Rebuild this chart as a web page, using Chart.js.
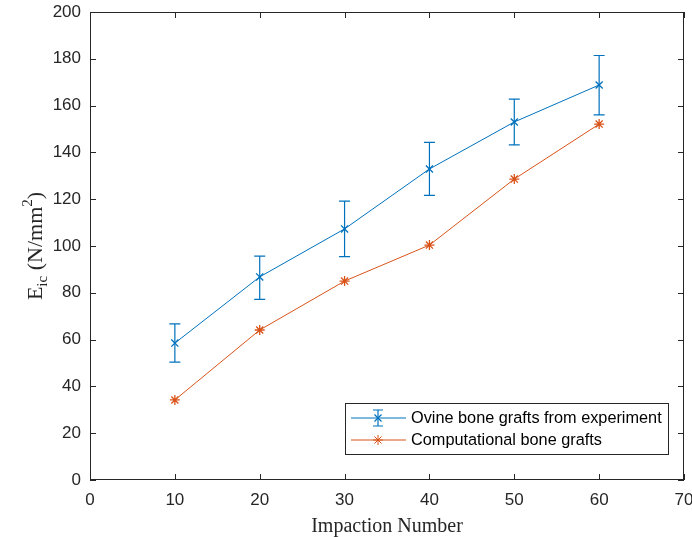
<!DOCTYPE html>
<html lang="en">
<head>
<meta charset="UTF-8">
<title>Impaction Number vs Eic</title>
<script src="https://cdn.jsdelivr.net/npm/chart.js"></script>
<style>
    html, body { margin: 0; padding: 0; background: #fff; }
    #wrap { width: 692px; height: 537px; position: relative; }
</style>
</head>
<body>
<div id="wrap"><canvas id="chart" width="692" height="537"></canvas></div>
<script>
// impaction numbers
const impactions = [10, 20, 30, 40, 50, 60];
// ovine bone grafts (experiment): mean and error bar ends
const ovineMean = [58.5, 86.8, 107.3, 132.9, 153.0, 168.8];
const ovineUpper = [66.7, 95.7, 119.2, 144.3, 162.8, 181.4];
const ovineLower = [50.4, 77.2, 95.5, 121.6, 143.2, 156.0];
// computational bone grafts
const computational = [34.2, 64.1, 85.0, 100.4, 128.6, 152.1];

const xTicks = [0, 10, 20, 30, 40, 50, 60, 70];
const yTicks = [0, 20, 40, 60, 80, 100, 120, 140, 160, 180, 200];

const BLUE = '#0072BD';
const ORANGE = '#D95319';
const AXIS = '#262626';
const SERIF = '"Liberation Serif", "Times New Roman", serif';
const SANS = '"Liberation Sans", Arial, sans-serif';

// error bars for the experiment series
const errorBars = {
    id: 'errorBars',
    afterDatasetsDraw(chart) {
        const ctx = chart.ctx;
        const xs = chart.scales.x, ys = chart.scales.y;
        ctx.save();
        ctx.strokeStyle = BLUE;
        ctx.lineWidth = 1.2;
        impactions.forEach((v, i) => {
            const px = xs.getPixelForValue(v);
            const top = ys.getPixelForValue(ovineUpper[i]);
            const bot = ys.getPixelForValue(ovineLower[i]);
            ctx.beginPath();
            ctx.moveTo(px, top); ctx.lineTo(px, bot);
            ctx.moveTo(px - 5.5, top); ctx.lineTo(px + 5.5, top);
            ctx.moveTo(px - 5.5, bot); ctx.lineTo(px + 5.5, bot);
            ctx.stroke();
        });
        ctx.restore();
    }
};

// MATLAB style box, inward ticks, y title with sub/superscript, legend
const matlabFrame = {
    id: 'matlabFrame',
    afterDraw(chart) {
        const ctx = chart.ctx;
        const a = chart.chartArea;
        const xs = chart.scales.x, ys = chart.scales.y;
        ctx.save();
        ctx.strokeStyle = AXIS;
        ctx.lineWidth = 1;
        ctx.strokeRect(a.left + 0.5, a.top + 0.5, a.right - a.left - 1, a.bottom - a.top - 1);
        ctx.beginPath();
        xTicks.forEach(v => {
            const px = Math.round(xs.getPixelForValue(v)) + 0.5;
            ctx.moveTo(px, a.bottom); ctx.lineTo(px, a.bottom - 6);
            ctx.moveTo(px, a.top); ctx.lineTo(px, a.top + 6);
        });
        yTicks.forEach(v => {
            const py = Math.round(ys.getPixelForValue(v)) + 0.5;
            ctx.moveTo(a.left, py); ctx.lineTo(a.left + 6, py);
            ctx.moveTo(a.right, py); ctx.lineTo(a.right - 6, py);
        });
        ctx.stroke();

        // y axis title: E_ic (N/mm^2)
        const cy = (a.top + a.bottom) / 2;
        ctx.translate(42, cy);
        ctx.rotate(-Math.PI / 2);
        ctx.fillStyle = AXIS;
        ctx.textBaseline = 'alphabetic';
        ctx.textAlign = 'left';
        const big = '22px ' + SERIF;
        const small = '15px ' + SERIF;
        const parts = [
            ['E', big, 0], ['ic', small, 5], [' (N/mm', big, 0], ['2', small, -10], [')', big, 0]
        ];
        let w = 0;
        parts.forEach(p => { ctx.font = p[1]; w += ctx.measureText(p[0]).width; });
        let x = -w / 2;
        parts.forEach(p => {
            ctx.font = p[1];
            ctx.fillText(p[0], x, p[2]);
            x += ctx.measureText(p[0]).width;
        });
        ctx.setTransform(1, 0, 0, 1, 0, 0);

        // legend box
        const lx = 345, ly = 403, lw = 323, lh = 51;
        ctx.fillStyle = '#fff';
        ctx.fillRect(lx, ly, lw, lh);
        ctx.strokeStyle = AXIS;
        ctx.lineWidth = 1;
        ctx.strokeRect(lx + 0.5, ly + 0.5, lw, lh);
        const rows = [
            { label: 'Ovine bone grafts from experiment', color: BLUE, style: 'crossRot', err: true, y: 418 },
            { label: 'Computational bone grafts', color: ORANGE, style: 'star', err: false, y: 440 }
        ];
        rows.forEach(r => {
            ctx.strokeStyle = r.color;
            ctx.lineWidth = 1;
            ctx.beginPath();
            ctx.moveTo(351, r.y); ctx.lineTo(406, r.y);
            ctx.stroke();
            const mx = 378;
            if (r.err) {
                ctx.lineWidth = 1.2;
                ctx.beginPath();
                ctx.moveTo(mx, r.y - 8); ctx.lineTo(mx, r.y + 8);
                ctx.moveTo(mx - 5, r.y - 8); ctx.lineTo(mx + 5, r.y - 8);
                ctx.moveTo(mx - 5, r.y + 8); ctx.lineTo(mx + 5, r.y + 8);
                ctx.stroke();
            }
            Chart.helpers.drawPoint(ctx, { pointStyle: r.style, radius: 5, borderWidth: 1.3, rotation: 0 }, mx, r.y);
            ctx.fillStyle = '#000';
            ctx.font = '16.3px ' + SANS;
            ctx.textBaseline = 'middle';
            ctx.textAlign = 'left';
            ctx.fillText(r.label, 411, r.y + 1);
        });
        ctx.restore();
    }
};

const tickFont = { family: SANS, size: 17 };

new Chart(document.getElementById('chart'), {
    type: 'line',
    data: {
        labels: impactions,
        datasets: [
            {
                label: 'Ovine bone grafts from experiment',
                data: impactions.map((x, i) => ({ x: x, y: ovineMean[i] })),
                borderColor: BLUE,
                backgroundColor: BLUE,
                borderWidth: 1,
                pointStyle: 'crossRot',
                pointRadius: 5,
                pointBorderWidth: 1.3,
                tension: 0
            },
            {
                label: 'Computational bone grafts',
                data: impactions.map((x, i) => ({ x: x, y: computational[i] })),
                borderColor: ORANGE,
                backgroundColor: ORANGE,
                borderWidth: 1,
                pointStyle: 'star',
                pointRadius: 5,
                pointBorderWidth: 1.3,
                tension: 0
            }
        ]
    },
    options: {
        responsive: false,
        animation: false,
        layout: { padding: { top: 12, right: 8, left: 0, bottom: 0 } },
        plugins: {
            legend: { display: false },
            tooltip: { enabled: false }
        },
        scales: {
            x: {
                type: 'linear',
                min: 0, max: 70,
                afterBuildTicks: s => { s.ticks = xTicks.map(v => ({ value: v })); },
                afterFit: s => { s.height = 57; s.paddingLeft = 0; s.paddingRight = 0; },
                grid: { display: false, drawTicks: false },
                border: { display: false },
                ticks: { font: tickFont, color: AXIS, padding: 10, maxRotation: 0 },
                title: {
                    display: true,
                    text: 'Impaction Number',
                    font: { family: SERIF, size: 20, lineHeight: 1.0 },
                    color: AXIS,
                    padding: { top: 0, bottom: 0 }
                }
            },
            y: {
                min: 0, max: 200,
                afterBuildTicks: s => { s.ticks = yTicks.map(v => ({ value: v })); },
                afterFit: s => { s.width = 90; s.paddingTop = 0; s.paddingBottom = 0; },
                grid: { display: false, drawTicks: false },
                border: { display: false },
                ticks: { font: tickFont, color: AXIS, padding: 9 }
            }
        }
    },
    plugins: [errorBars, matlabFrame]
});
</script>
</body>
</html>
